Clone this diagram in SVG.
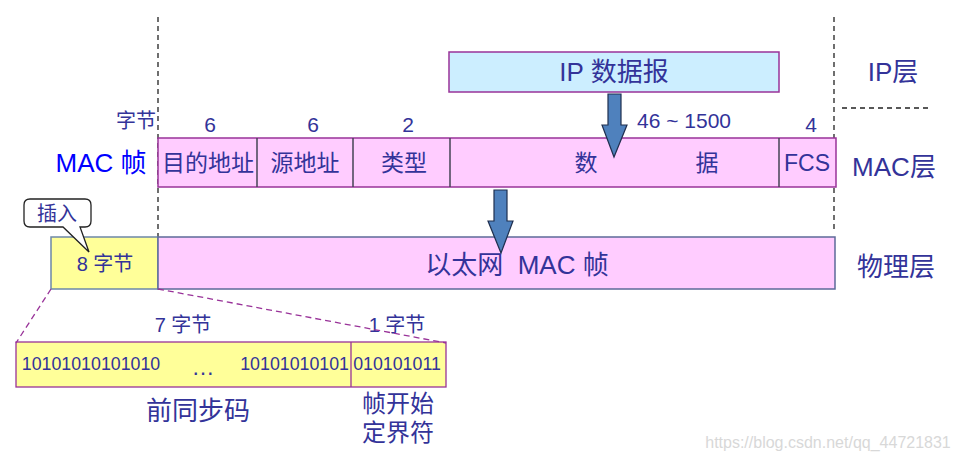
<svg xmlns="http://www.w3.org/2000/svg" width="957" height="460" viewBox="0 0 957 460">
<style>
text{font-family:"Liberation Sans","Noto Sans CJK SC",sans-serif;fill:#333399;text-anchor:middle}
.pink{fill:#ffccff;stroke:#993399;stroke-width:1.5}
.div{stroke:#444455;stroke-width:1.5}
.dash{stroke:#222;stroke-width:1.3;stroke-dasharray:5,4;fill:none}
.pdash{stroke:#993399;stroke-width:1.3;stroke-dasharray:6,4;fill:none}
.arrow{fill:#4f81bd;stroke:#1f2f4f;stroke-width:1.2}
.f20{font-size:20px}
.f23{font-size:23px}
.f26{font-size:26px}
.f21{font-size:21px}
</style>
<rect width="957" height="460" fill="#ffffff"/>
<g id="guides">
<line class="dash" x1="158" y1="17" x2="158" y2="237"/>
<line class="dash" x1="834" y1="17" x2="834" y2="233"/>
<line class="dash" x1="842" y1="108" x2="930" y2="108"/>
</g>
<g id="ip-datagram">
<rect x="449" y="52" width="330" height="40" fill="#cceeff" stroke="#993399" stroke-width="1.5"/>
<text x="614" y="81" class="f26">IP 数据报</text>
</g>
<g id="mac-frame">
<rect class="pink" x="158" y="138" width="678" height="49"/>
<line class="div" x1="257" y1="138" x2="257" y2="187"/>
<line class="div" x1="353" y1="138" x2="353" y2="187"/>
<line class="div" x1="450" y1="138" x2="450" y2="187"/>
<line class="div" x1="779" y1="138" x2="779" y2="187"/>
<text x="208" y="171" class="f23">目的地址</text>
<text x="305" y="171" class="f23">源地址</text>
<text x="404" y="171" class="f23">类型</text>
<text x="586" y="171" class="f23">数</text>
<text x="707" y="171" class="f23">据</text>
<text x="807" y="171" class="f23">FCS</text>
</g>
<g id="labels">
<text x="156" y="128" class="f20" style="text-anchor:end">字节</text>
<text x="210" y="132" class="f21">6</text>
<text x="313" y="132" class="f21">6</text>
<text x="408" y="132" class="f21">2</text>
<text x="684" y="128" class="f21">46 ~ 1500</text>
<text x="811" y="132" class="f21">4</text>
<text x="101" y="172" class="f26" style="fill:#0000ff">MAC 帧</text>
<text x="893" y="81" class="f26">IP层</text>
<text x="894" y="176" class="f26">MAC层</text>
<text x="896" y="276" class="f26">物理层</text>
</g>
<g id="ethernet-frame">
<rect x="51" y="237" width="107" height="52" fill="#ffff99" stroke="#6d88a8" stroke-width="1.5"/>
<rect x="158" y="237" width="677" height="52" fill="#ffccff" stroke="#5d6a99" stroke-width="1.5"/>
<text x="105" y="271" class="f20">8 字节</text>
<text x="517" y="274" class="f26" style="white-space:pre">以太网  MAC 帧</text>
</g>
<g id="callout">
<path d="M30,199 H85 Q91,199 91,205 V221 Q91,227 85,227 H80 L89,252 L63,227 H30 Q24,227 24,221 V205 Q24,199 30,199 Z" fill="#ffffff" stroke="#222" stroke-width="1.3"/>
<text x="57" y="221" class="f20">插入</text>
</g>
<g id="preamble">
<rect x="16" y="342" width="430" height="45" fill="#ffff99" stroke="#993399" stroke-width="1.3"/>
<line x1="351" y1="342" x2="351" y2="387" stroke="#993399" stroke-width="1.3"/>
<text x="91" y="370" style="font-size:17.8px">10101010101010</text>
<text x="203" y="375" class="f23">…</text>
<text x="349" y="370" style="font-size:17.8px;text-anchor:end">10101010101</text>
<text x="397" y="370" style="font-size:17.8px">010101011</text>
<text x="183" y="332" class="f20">7 字节</text>
<text x="397" y="332" class="f20">1 字节</text>
<text x="198" y="420" class="f26">前同步码</text>
<text x="398" y="412" style="font-size:24px">帧开始</text>
<text x="398" y="441" style="font-size:24px">定界符</text>
</g>
<g id="connectors">
<line class="pdash" x1="51" y1="289" x2="16" y2="343"/>
<line class="pdash" x1="158" y1="289" x2="446" y2="343"/>
<path class="arrow" d="M608,94 H621 V125 H627 L614,157 L602,125 H608 Z"/>
<path class="arrow" d="M494,190 H507 V221 H513 L501,253 L488,221 H494 Z"/>
</g>
<text x="828" y="448" style="font-size:16px;fill:#d8d8d8">https://blog.csdn.net/qq_44721831</text>
</svg>
